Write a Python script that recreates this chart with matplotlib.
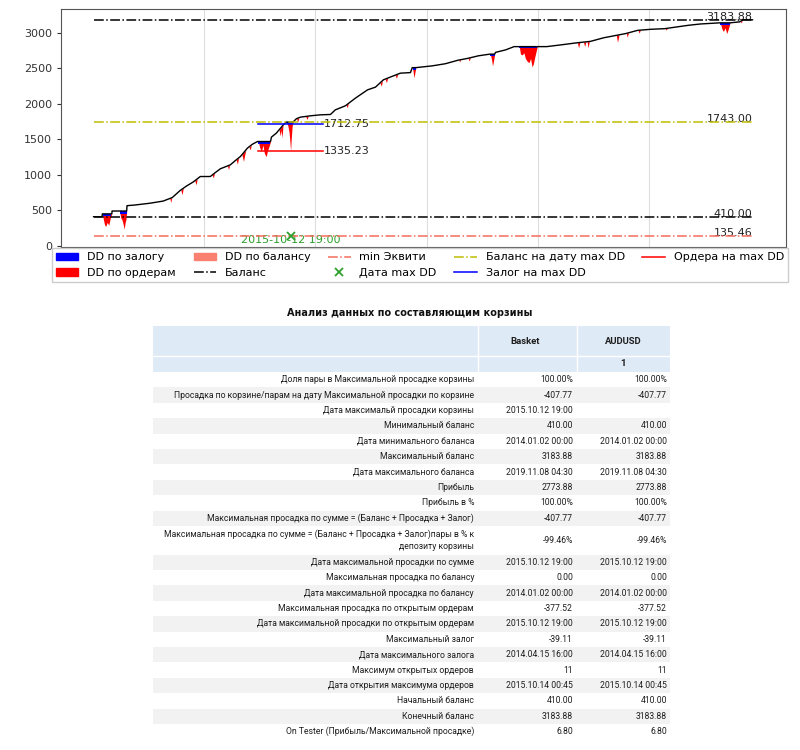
import pandas as pd
import matplotlib
matplotlib.use('Agg')
import matplotlib.pyplot as plt
from matplotlib.patches import Patch, Rectangle
from matplotlib.lines import Line2D

plt.rcParams['font.family'] = ['DejaVu Sans']

# кривая баланса
bal_dates = ['2014-01-02', '2014-01-30', '2014-01-31', '2014-03-03', '2014-03-04', '2014-04-21', '2014-04-22',
             '2014-05-19', '2014-07-07', '2014-08-19', '2014-09-18', '2014-10-14', '2014-11-03', '2014-11-26',
             '2014-12-19', '2015-01-21', '2015-02-06', '2015-02-23', '2015-03-28', '2015-04-13', '2015-04-30',
             '2015-05-23', '2015-06-08', '2015-06-25', '2015-08-07', '2015-08-10', '2015-08-26', '2015-09-18',
             '2015-09-28', '2015-10-20', '2015-10-31', '2015-11-13', '2015-12-16', '2016-01-18', '2016-02-20',
             '2016-03-07', '2016-04-09', '2016-05-12', '2016-06-21', '2016-07-17', '2016-08-12', '2016-09-14',
             '2016-10-07', '2016-11-09', '2016-11-15', '2016-11-27', '2017-01-20', '2017-03-04', '2017-04-15',
             '2017-05-16', '2017-06-21', '2017-07-28', '2017-08-13', '2017-08-16', '2017-09-18', '2017-10-16',
             '2018-01-31', '2018-03-18', '2018-05-09', '2018-06-24', '2018-08-06', '2018-09-15', '2018-10-18',
             '2018-11-26', '2019-01-08', '2019-02-23', '2019-05-13', '2019-06-21', '2019-08-23', '2019-09-26',
             '2019-10-28', '2019-11-08', '2019-12-09']
bal_values = [410, 410, 450, 450, 490, 490, 565,
              575, 600, 630, 680, 780, 840, 900,
              976, 976, 1030, 1085, 1141, 1200, 1258,
              1376, 1430, 1469, 1469, 1531, 1587, 1704,
              1743, 1743, 1790, 1812, 1831, 1845, 1850,
              1915, 1972, 2080, 2197, 2235, 2338, 2394,
              2432, 2440, 2510, 2510, 2535, 2565, 2615,
              2640, 2677, 2700, 2700, 2725, 2760, 2806,
              2806, 2830, 2859, 2880, 2930, 2963, 2990,
              3035, 3050, 3059, 3107, 3125, 3141, 3141,
              3155, 3183.88, 3183.88]

# просадка по ордерам: баланс и эквити в точках провалов
dd_dates = ['2014-01-31', '2014-02-03', '2014-02-07', '2014-02-11', '2014-02-16', '2014-02-21', '2014-02-26', '2014-03-03',
            '2014-03-29', '2014-04-01', '2014-04-06', '2014-04-09', '2014-04-13', '2014-04-16', '2014-04-19', '2014-04-21',
            '2014-09-10', '2014-09-13', '2014-09-16', '2014-10-16', '2014-10-20', '2014-10-24',
            '2014-12-01', '2014-12-05', '2014-12-09', '2015-01-27', '2015-01-31', '2015-02-04',
            '2015-03-18', '2015-03-22', '2015-03-25', '2015-04-16', '2015-04-20', '2015-04-24',
            '2015-05-05', '2015-05-10', '2015-05-14', '2015-05-18', '2015-05-28', '2015-06-01', '2015-06-05',
            '2015-06-28', '2015-07-02', '2015-07-08', '2015-07-13', '2015-07-18', '2015-07-24', '2015-07-28', '2015-08-02', '2015-08-07',
            '2015-09-04', '2015-09-08', '2015-09-11', '2015-09-14', '2015-09-17',
            '2015-09-29', '2015-10-03', '2015-10-07', '2015-10-10', '2015-10-12', '2015-10-14', '2015-10-17', '2015-10-20',
            '2015-11-01', '2015-11-04', '2015-11-08', '2015-12-01', '2015-12-05', '2015-12-09',
            '2016-04-12', '2016-04-15', '2016-04-19', '2016-08-01', '2016-08-05', '2016-08-09',
            '2016-08-18', '2016-08-22', '2016-08-26', '2016-09-20', '2016-09-24', '2016-09-28',
            '2016-11-16', '2016-11-19', '2016-11-21', '2016-11-24', '2016-11-27',
            '2017-04-17', '2017-04-20', '2017-04-23', '2017-05-18', '2017-05-21', '2017-05-25',
            '2017-07-30', '2017-08-03', '2017-08-06', '2017-08-09', '2017-08-13',
            '2017-11-02', '2017-11-06', '2017-11-12', '2017-11-17', '2017-11-22', '2017-11-28',
            '2017-12-04', '2017-12-09', '2017-12-14', '2017-12-18', '2017-12-24', '2017-12-31',
            '2018-05-12', '2018-05-16', '2018-05-20', '2018-06-01', '2018-06-05', '2018-06-09',
            '2018-06-13', '2018-06-16', '2018-06-20', '2018-09-17', '2018-09-21', '2018-09-26',
            '2018-10-20', '2018-10-23', '2018-10-27', '2018-11-28', '2018-12-01', '2018-12-05',
            '2019-02-25', '2019-02-28', '2019-03-04',
            '2019-08-25', '2019-08-30', '2019-09-04', '2019-09-10', '2019-09-15', '2019-09-20', '2019-09-26',
            '2019-10-30', '2019-11-02', '2019-11-05']
dd_balance = [450] * 8 + [490] * 8 + \
             [667, 672, 677, 786, 798, 810, 916, 930, 943, 996, 1010, 1023,
              1124, 1131, 1136, 1210, 1224, 1238, 1284, 1309, 1330, 1350, 1393, 1403, 1420] + \
             [1469] * 9 + [1633, 1653, 1668, 1684, 1699] + [1743] * 8 + \
             [1792, 1797, 1804, 1822, 1824, 1827, 1982, 1992, 2005, 2294, 2310, 2326,
              2348, 2355, 2362, 2404, 2411, 2417] + [2510] * 5 + \
             [2617, 2619, 2621, 2642, 2645, 2649] + [2700] * 5 + [2806] * 12 + \
             [2860, 2862, 2864, 2869, 2871, 2873, 2875, 2876, 2878, 2965, 2968, 2972,
              2992, 2996, 3001, 3036, 3037, 3038, 3060, 3062, 3064] + [3141] * 7 + [3160, 3168, 3176]
dd_equity = [450, 380, 300, 272, 330, 290, 390, 450,
             490, 400, 360, 310, 235, 330, 380, 490,
             667, 610, 677, 786, 720, 810,
             916, 860, 943, 996, 960, 1023,
             1124, 1075, 1136, 1210, 1150, 1238,
             1284, 1190, 1280, 1350, 1393, 1350, 1420,
             1469, 1390, 1330, 1420, 1300, 1258, 1340, 1400, 1469,
             1633, 1550, 1630, 1520, 1699,
             1743, 1690, 1600, 1450, 1335.23, 1500, 1680, 1743,
             1792, 1740, 1804, 1822, 1780, 1827,
             1982, 1945, 2005, 2294, 2250, 2326,
             2348, 2300, 2362, 2404, 2360, 2417,
             2510, 2420, 2366, 2450, 2510,
             2617, 2590, 2621, 2642, 2605, 2649,
             2700, 2620, 2535, 2600, 2700,
             2806, 2700, 2690, 2720, 2640, 2600,
             2580, 2640, 2521, 2560, 2680, 2806,
             2860, 2790, 2864, 2869, 2810, 2873,
             2875, 2790, 2878, 2965, 2868, 2972,
             2992, 2940, 3001, 3036, 2995, 3038,
             3060, 3040, 3064,
             3141, 3060, 3020, 3070, 2990, 3050, 3141,
             3160, 3140, 3176]

# просадка по залогу
mg_start = ['2014-02-03', '2014-03-30', '2015-06-28', '2015-09-29', '2016-11-16', '2017-07-30', '2017-11-02', '2019-08-25']
mg_end = ['2014-03-01', '2014-04-21', '2015-08-05', '2015-10-18', '2016-11-27', '2017-08-13', '2017-12-31', '2019-09-26']
mg_top = [450, 490, 1469, 1743, 2510, 2700, 2806, 3141]
mg_low = [425, 451, 1440, 1712.75, 2480, 2675, 2790, 3115]

start_date = '2014-01-02'
end_date = '2019-12-09'
max_balance = 3183.88
min_balance = 410.00
balance_at_dd = 1743.00
margin_at_dd = 1712.75
orders_at_dd = 1335.23
min_equity = 135.46
dd_date = '2015-10-12 19:00'
dd_from, dd_to = '2015-06-26', '2016-01-28'
grid_years = ['2015-01-01', '2016-01-01', '2017-01-01', '2018-01-01', '2019-01-01']

# таблица
table_title = 'Анализ данных по составляющим корзины'
col_names = ['Basket', 'AUDUSD']
row_labels = ['Доля пары в Максимальной просадке корзины',
              'Просадка по корзине/парам на дату Максимальной просадки по корзине',
              'Дата максимальй просадки корзины',
              'Минимальный баланс',
              'Дата минимального баланса',
              'Максимальный баланс',
              'Дата максимального баланса',
              'Прибыль',
              'Прибыль в %',
              'Максимальная просадка по сумме = (Баланс + Просадка + Залог)',
              'Максимальная просадка по сумме = (Баланс + Просадка + Залог)пары в % к\nдепозиту корзины',
              'Дата максимальной просадки по сумме',
              'Максимальная просадка по балансу',
              'Дата максимальной просадка по балансу',
              'Максимальная просадка по открытым ордерам',
              'Дата максимальной просадки по открытым ордерам',
              'Максимальный залог',
              'Дата максимального залога',
              'Максимум открытых ордеров',
              'Дата открытия максимума ордеров',
              'Начальный баланс',
              'Конечный баланс',
              'On Tester (Прибыль/Максимальной просадке)']
basket_vals = ['100.00%', '-407.77', '2015.10.12 19:00', '410.00', '2014.01.02 00:00', '3183.88',
               '2019.11.08 04:30', '2773.88', '100.00%', '-407.77', '-99.46%', '2015.10.12 19:00',
               '0.00', '2014.01.02 00:00', '-377.52', '2015.10.12 19:00', '-39.11', '2014.04.15 16:00',
               '11', '2015.10.14 00:45', '410.00', '3183.88', '6.80']
audusd_vals = ['100.00%', '-407.77', '', '410.00', '2014.01.02 00:00', '3183.88',
               '2019.11.08 04:30', '2773.88', '100.00%', '-407.77', '-99.46%', '2015.10.12 19:00',
               '0.00', '2014.01.02 00:00', '-377.52', '2015.10.12 19:00', '-39.11', '2014.04.15 16:00',
               '11', '2015.10.14 00:45', '410.00', '3183.88', '6.80']

green = '#2ca02c'
eq_color = '#f56c5c'

fig = plt.figure(figsize=(8, 7.5), dpi=100)
ax = fig.add_axes([61 / 800, 1 - 247 / 750, 725 / 800, 238 / 750])

bd = pd.to_datetime(bal_dates)
dd = pd.to_datetime(dd_dates)
t0, t1 = pd.Timestamp(start_date), pd.Timestamp(end_date)

ax.fill_between(dd, dd_equity, dd_balance, color='red', lw=0, zorder=2)
for s, e, top, low in zip(mg_start, mg_end, mg_top, mg_low):
    ax.fill_between(pd.to_datetime([s, e]), [low, low], [top, top], color='blue', lw=0, zorder=3)
ax.plot(bd, bal_values, color='black', lw=1.0, zorder=4)

for v, c in [(max_balance, 'black'), (min_balance, 'black'), (balance_at_dd, 'y'), (min_equity, eq_color)]:
    ax.plot([t0, t1], [v, v], color=c, ls='-.', lw=1.1, zorder=5)
    ax.text(t1, v, f'{v:.2f}', ha='right', va='baseline', fontsize=8, color='#222222')

dx = pd.to_datetime([dd_from, dd_to])
ax.plot(dx, [margin_at_dd] * 2, color='blue', lw=1.1, zorder=5)
ax.plot(dx, [orders_at_dd] * 2, color='red', lw=1.1, zorder=5)
ax.text(dx[1], margin_at_dd, f'{margin_at_dd:.2f}', ha='left', va='center', fontsize=8, color='#222222')
ax.text(dx[1], orders_at_dd, f'{orders_at_dd:.2f}', ha='left', va='center', fontsize=8, color='#222222')
tdd = pd.Timestamp(dd_date)
ax.plot([tdd], [min_equity], 'x', color=green, ms=6, mew=1.3, zorder=6)
ax.text(tdd, min_equity + 15, dd_date, ha='center', va='top', fontsize=8, color=green)

ax.set_xlim(pd.Timestamp('2013-09-17'), pd.Timestamp('2020-03-28'))
ax.set_ylim(-17, 3336)
ax.set_xticks(pd.to_datetime(grid_years))
ax.grid(axis='x', color='#dddddd', lw=0.8)
ax.set_axisbelow(True)
ax.tick_params(axis='x', labelbottom=False, length=0)
ax.tick_params(axis='y', labelsize=8, length=3, colors='#333333')
for sp in ax.spines.values():
    sp.set_color('#555555')

handles = [Patch(color='blue', label='DD по залогу'),
           Patch(color='red', label='DD по ордерам'),
           Patch(color='salmon', label='DD по балансу'),
           Line2D([], [], color='black', ls='-.', lw=1.1, label='Баланс'),
           Line2D([], [], color=eq_color, ls='-.', lw=1.1, label='min Эквити'),
           Line2D([], [], color=green, ls='none', marker='x', mew=1.3, label='Дата max DD'),
           Line2D([], [], color='y', ls='-.', lw=1.1, label='Баланс на дату max DD'),
           Line2D([], [], color='blue', lw=1.1, label='Залог на max DD'),
           Line2D([], [], color='red', lw=1.1, label='Ордера на max DD')]
fig.legend(handles=handles, ncol=5, loc='upper center', bbox_to_anchor=(0.525, 1 - 248 / 750),
           fontsize=8, columnspacing=1.6, handletextpad=0.8, borderaxespad=0, fancybox=False,
           edgecolor='#cccccc', framealpha=1)

# таблица в пиксельных координатах
tx = fig.add_axes([0, 0, 1, 1])
tx.set_xlim(0, 800)
tx.set_ylim(750, 0)
tx.axis('off')
tc = '#1e1e1e'
tf = ['Roboto', 'DejaVu Sans']
fs = 6.2
tx.text(410, 313, table_title, ha='center', va='center', fontsize=7.0, fontweight='bold', color='#111111')
tx.add_patch(Rectangle((153, 326), 517, 46, color='#dfeaf7', lw=0))
for xv in (478, 577):
    tx.plot([xv, xv], [326, 372], color='white', lw=1)
tx.plot([153, 670], [356, 356], color='white', lw=1)
tx.text(525, 341, col_names[0], ha='center', va='center', fontsize=6.8, fontweight='bold', color=tc, family=tf)
tx.text(623, 341, col_names[1], ha='center', va='center', fontsize=6.8, fontweight='bold', color=tc, family=tf)
tx.text(623, 364, '1', ha='center', va='center', fontsize=6.8, fontweight='bold', color=tc, family=tf)

y = 372
for i, (lab, b, a) in enumerate(zip(row_labels, basket_vals, audusd_vals)):
    h = 28.6 if '\n' in lab else 15.4
    if i % 2 == 1:
        tx.add_patch(Rectangle((153, y), 517, h, color='#f2f2f2', lw=0))
    cy = y + h / 2
    tx.text(474, cy, lab, ha='right', va='center', multialignment='right', fontsize=fs, color=tc,
            linespacing=1.5, family=tf)
    tx.text(573, cy, b, ha='right', va='center', fontsize=fs, color=tc, family=tf)
    tx.text(667, cy, a, ha='right', va='center', fontsize=fs, color=tc, family=tf)
    y += h

fig.savefig('out.png', dpi=100)
